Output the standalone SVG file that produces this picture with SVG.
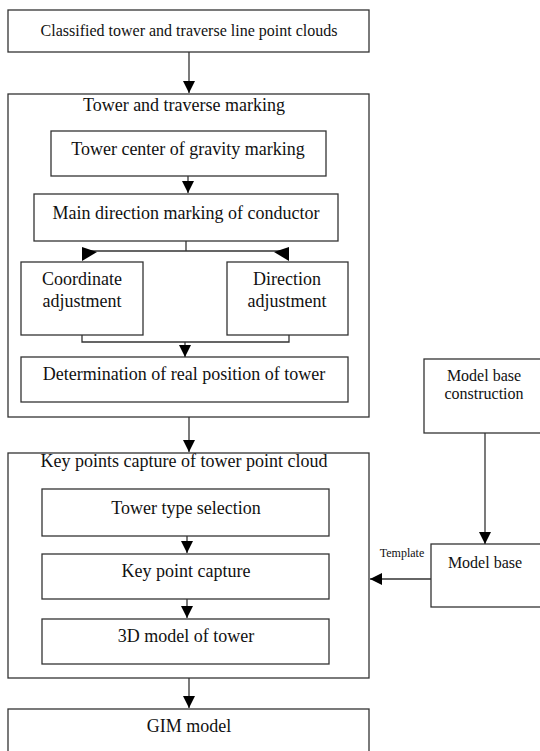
<svg xmlns="http://www.w3.org/2000/svg" width="540" height="751" viewBox="0 0 540 751">
<defs>
<style>
.box{fill:#fff;stroke:#333;stroke-width:1.3}
.ln{fill:none;stroke:#333;stroke-width:1.3}
.ah{fill:#000}
</style>
<marker id="arr" markerUnits="userSpaceOnUse" markerWidth="12" markerHeight="12" viewBox="0 0 12 12" refX="12" refY="6" orient="auto">
<path d="M0,0 L12,6 L0,12 Z" class="ah"/>
</marker>
</defs>
<rect width="540" height="751" fill="#fff"/>

<g font-family="'Liberation Serif', 'Times New Roman', Times, serif" fill="#111" text-anchor="middle" font-size="18">

<g id="n-input">
<rect class="box" x="8" y="10" width="361" height="42"/>
<text font-size="16" x="189" y="36">Classified tower and traverse line point clouds</text>
</g>

<g id="n-marking">
<rect class="box" x="8" y="94" width="361" height="323"/>
<text x="184" y="111">Tower and traverse marking</text>
</g>

<g id="n-gravity">
<rect class="box" x="51" y="131" width="275" height="45"/>
<text x="188" y="155">Tower center of gravity marking</text>
</g>

<g id="n-direction">
<rect class="box" x="34" y="194" width="304" height="47"/>
<text x="186" y="219">Main direction marking of conductor</text>
</g>

<g id="n-coord">
<rect class="box" x="21" y="262" width="122" height="73"/>
<text x="82" y="285">Coordinate</text>
<text x="82" y="307">adjustment</text>
</g>

<g id="n-diradj">
<rect class="box" x="227" y="262" width="121" height="73"/>
<text x="287" y="285">Direction</text>
<text x="287" y="307">adjustment</text>
</g>

<g id="n-realpos">
<rect class="box" x="21" y="357" width="327" height="45"/>
<text x="184" y="380">Determination of real position of tower</text>
</g>

<g id="n-keypoints">
<rect class="box" x="8" y="453" width="361" height="225"/>
<text x="184" y="467">Key points capture of tower point cloud</text>
</g>

<g id="n-type">
<rect class="box" x="42" y="489" width="287" height="47"/>
<text x="186" y="514">Tower type selection</text>
</g>

<g id="n-capture">
<rect class="box" x="42" y="554" width="287" height="45"/>
<text x="186" y="577">Key point capture</text>
</g>

<g id="n-3d">
<rect class="box" x="42" y="619" width="287" height="45"/>
<text x="186" y="642">3D model of tower</text>
</g>

<g id="n-gim">
<rect class="box" x="8" y="709" width="361" height="60"/>
<text x="189" y="732">GIM model</text>
</g>

<g id="n-mbc">
<rect class="box" x="424" y="359" width="120" height="74"/>
<text font-size="16" x="484" y="381">Model base</text>
<text font-size="16" x="484" y="399">construction</text>
</g>

<g id="n-mb">
<rect class="box" x="431" y="544" width="113" height="63"/>
<text font-size="16" x="485" y="568">Model base</text>
</g>

<g id="connectors">
<path class="ln" d="M189,52 V93" marker-end="url(#arr)"/>
<path class="ln" d="M188,176 V193" marker-end="url(#arr)"/>
<path class="ln" d="M186,241 V251 M83,251 H288"/>
<polygon class="ah" points="82,247 82,261 97,252"/>
<polygon class="ah" points="289,247 289,261 274,252"/>
<path class="ln" d="M82,335 V342 H289 V335"/>
<path class="ln" d="M185,342 V357" marker-end="url(#arr)"/>
<path class="ln" d="M189,417 V452" marker-end="url(#arr)"/>
<path class="ln" d="M187,536 V553" marker-end="url(#arr)"/>
<path class="ln" d="M187,599 V618" marker-end="url(#arr)"/>
<path class="ln" d="M189,678 V708" marker-end="url(#arr)"/>
<path class="ln" d="M485,433 V544" marker-end="url(#arr)"/>
<path class="ln" d="M431,579 H370" marker-end="url(#arr)"/>
<text font-size="12" x="402" y="557">Template</text>
</g>

</g>
</svg>
